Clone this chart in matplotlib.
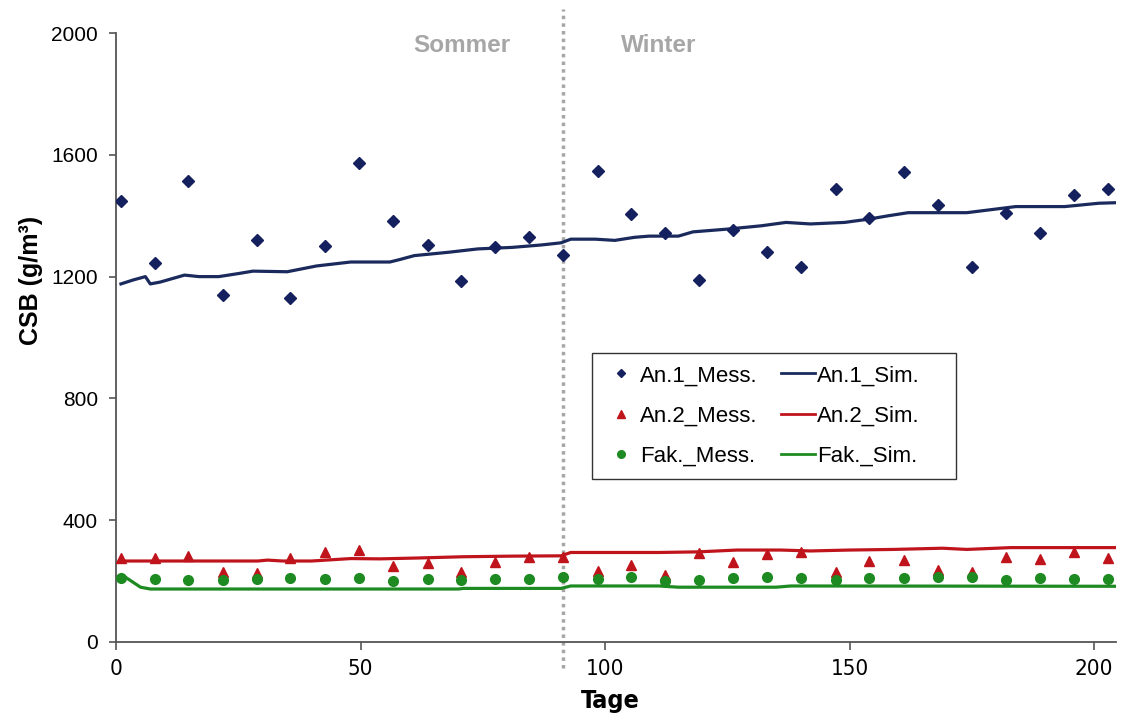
import matplotlib
matplotlib.use("Agg")
import matplotlib.pyplot as plt
from matplotlib.lines import Line2D
from matplotlib.patches import Rectangle

plt.rcParams['font.family'] = ['Liberation Sans', 'DejaVu Sans']

# Measurement days and measured CSB concentrations (g/m³)
mess_days = [1, 8, 14.8, 21.9, 28.8, 35.6, 42.8, 49.7, 56.6, 63.7, 70.6, 77.5,
             84.5, 91.5, 98.5, 105.4, 112.3, 119.3, 126.2, 133.2, 140.1, 147.2,
             154, 161.1, 168, 175.1, 182, 189, 195.9, 202.8]
an1_mess = [1448, 1246, 1515, 1140, 1319, 1129, 1300, 1572, 1383, 1303, 1187, 1298,
            1331, 1271, 1546, 1405, 1344, 1189, 1353, 1280, 1233, 1487, 1391, 1542,
            1436, 1233, 1410, 1344, 1468, 1487]
an2_mess = [277, 275, 282, 231, 226, 275, 297, 302, 251, 261, 231, 264,
            280, 278, 234, 253, 220, 291, 263, 288, 294, 231, 267, 269,
            236, 231, 280, 272, 294, 275]
fak_mess = [211, 206, 204, 204, 207, 209, 206, 209, 200, 206, 204, 206,
            206, 212, 206, 214, 201, 204, 209, 214, 209, 204, 209, 209,
            214, 212, 204, 211, 206, 206]

# Simulated courses
an1_sim_days = [1, 3.5, 6, 7, 9, 14, 17, 21, 25, 28, 35, 41, 48, 56, 58, 61, 68, 74,
                81, 87, 91, 93, 98, 102, 106, 109, 115, 118, 125, 132, 137, 142, 149,
                154, 158, 162, 174, 184, 194, 201, 205]
an1_sim = [1176, 1189, 1200, 1176, 1182, 1205, 1200, 1200, 1210, 1218, 1216, 1235,
           1248, 1248, 1256, 1269, 1280, 1291, 1296, 1304, 1311, 1323, 1323, 1319,
           1329, 1333, 1333, 1347, 1356, 1367, 1378, 1373, 1378, 1389, 1400, 1410,
           1410, 1430, 1430, 1441, 1443]
an2_sim_days = [1, 29, 31, 34, 40, 48, 54, 62, 71, 81, 91, 93, 111, 119, 127, 136,
                142, 150, 159, 169, 174, 183, 205]
an2_sim = [266, 266, 269, 266, 266, 274, 273, 276, 280, 282, 283, 294, 294, 296,
           302, 302, 299, 302, 304, 308, 304, 310, 310]
fak_sim_days = [1, 2, 3.5, 5, 7, 70, 71, 91, 93, 111, 115, 135, 138, 205]
fak_sim = [211, 212, 196, 180, 174, 174, 176, 176, 184, 184, 180, 180, 184, 183]

season_split = 91.5
x_ticks = [0, 50, 100, 150, 200]
y_ticks = [0, 400, 800, 1200, 1600, 2000]

c_blue_line = '#1b2a5c'
c_blue_mark = '#15205e'
c_red = '#c0141c'
c_green = '#1e8a22'
c_grey = '#a6a6a6'

fig = plt.figure(figsize=(11.3, 7.15), dpi=100)
ax = fig.add_axes([0.1027, 0.1021, 0.8849, 0.8517])

ax.plot(an1_sim_days, an1_sim, color=c_blue_line, lw=2.3, zorder=3)
ax.plot(an2_sim_days, an2_sim, color=c_red, lw=2.3, zorder=3)
ax.plot(fak_sim_days, fak_sim, color=c_green, lw=2.3, zorder=3)
ax.plot(mess_days, an1_mess, 'D', color=c_blue_mark, ms=6, ls='none', zorder=4)
ax.plot(mess_days, an2_mess, '^', color=c_red, ms=7.5, ls='none', zorder=4)
ax.plot(mess_days, fak_mess, 'o', color=c_green, ms=7, ls='none', zorder=4)

# season boundary
ax.plot([season_split, season_split], [-85, 2080], color=c_grey, lw=2.5,
        ls=(0, (1, 1.2)), clip_on=False, zorder=2)
ax.text(70.8, 1960, 'Sommer', color=c_grey, fontsize=17.5, fontweight='bold',
        ha='center', va='center')
ax.text(111, 1960, 'Winter', color=c_grey, fontsize=17.5, fontweight='bold',
        ha='center', va='center')

ax.set_xlim(0, 204.5)
ax.set_ylim(0, 2000)
ax.set_xticks(x_ticks)
ax.set_yticks(y_ticks)
ax.set_xticklabels([str(t) for t in x_ticks], family='DejaVu Sans',
                   stretch='condensed', fontsize=16)
ax.tick_params(axis='y', labelsize=15, direction='out', length=5, width=1.2,
               color='#555555', pad=8)
ax.tick_params(axis='x', direction='out', length=6, width=1.2,
               color='#555555', pad=6)
for s in ('top', 'right'):
    ax.spines[s].set_visible(False)
for s in ('left', 'bottom'):
    ax.spines[s].set_color('#555555')
    ax.spines[s].set_linewidth(1.3)

ax.set_ylabel('CSB (g/m³)', fontsize=18, fontweight='bold')
ax.yaxis.set_label_coords(-0.073, 0.594)
ax.set_xlabel('Tage', fontsize=18, fontweight='bold', family='DejaVu Sans',
              stretch='condensed')
ax.xaxis.set_label_coords(0.494, -0.078)

handles = [
    Line2D([], [], marker='D', color=c_blue_mark, ls='none', ms=4.5),
    Line2D([], [], marker='^', color=c_red, ls='none', ms=5.5),
    Line2D([], [], marker='o', color=c_green, ls='none', ms=5.5),
    Line2D([], [], color=c_blue_line, lw=2),
    Line2D([], [], color=c_red, lw=2),
    Line2D([], [], color=c_green, lw=2),
]
labels = ['An.1_Mess.', 'An.2_Mess.', 'Fak._Mess.', 'An.1_Sim.', 'An.2_Sim.', 'Fak._Sim.']
leg = ax.legend(handles, labels, ncol=2, loc='upper left',
                bbox_to_anchor=(0.476, 0.4745), borderaxespad=0, fontsize=16,
                frameon=False, handlelength=1.5, handletextpad=0.1,
                columnspacing=1.08, labelspacing=0.86, borderpad=0.55)
leg.set_zorder(6)

# legend box with extra room on the right-hand side
fig.canvas.draw()
bb = leg.get_window_extent().transformed(fig.transFigure.inverted())
extra = 24 / fig.bbox.width
box = Rectangle((bb.x0, bb.y0), bb.width + extra, bb.height,
                transform=fig.transFigure, facecolor='white',
                edgecolor='#333333', lw=1.0, zorder=5.5, clip_on=False)
ax.add_artist(box)

fig.savefig('out.png', dpi=100)
